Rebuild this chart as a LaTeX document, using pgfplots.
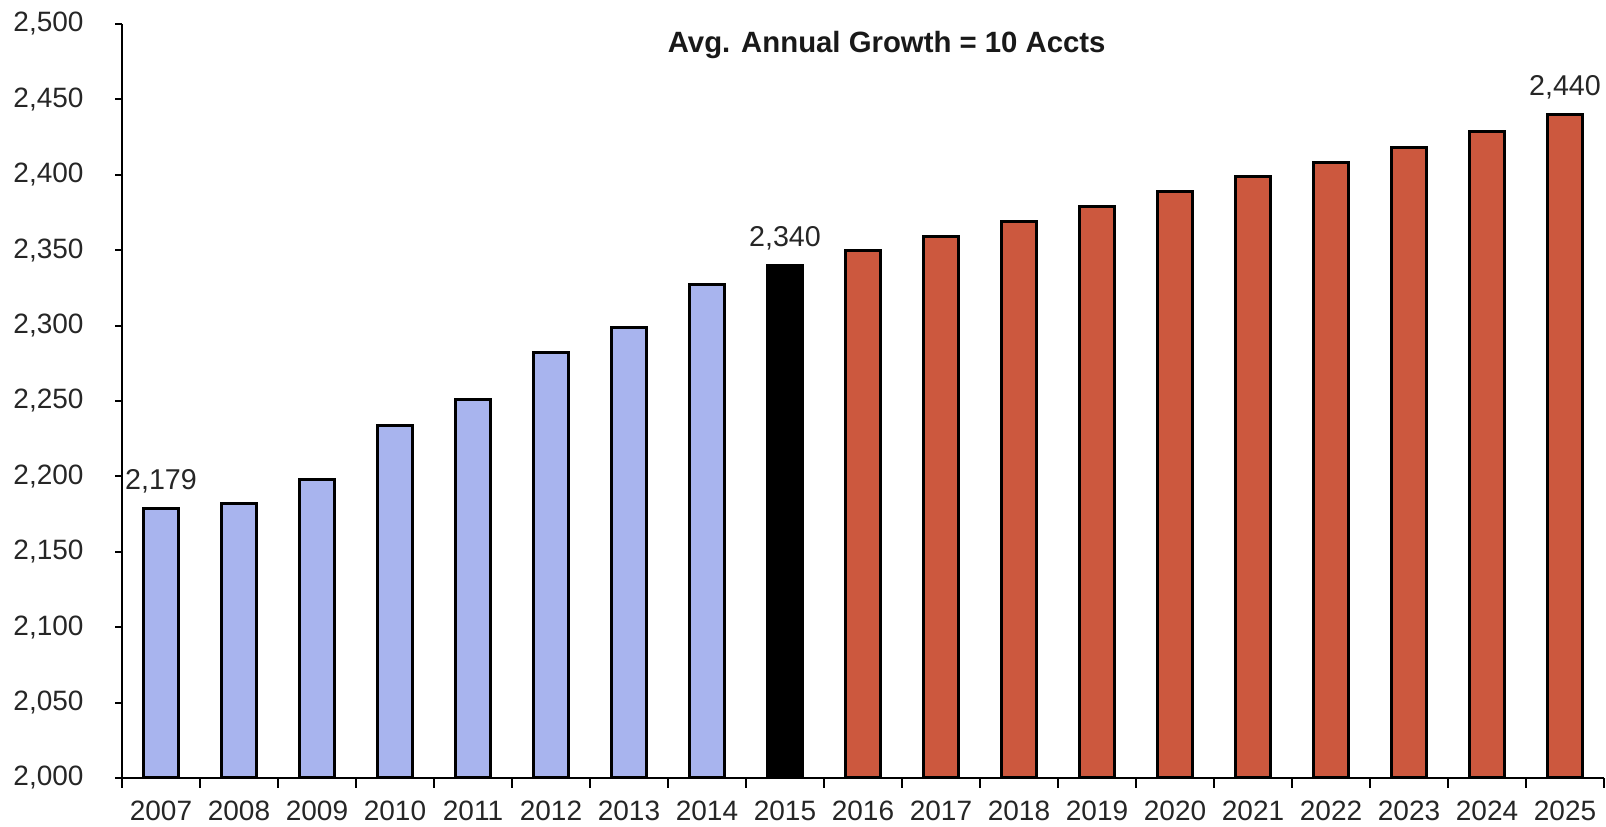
\documentclass[border=0pt]{standalone}
\usepackage{fontspec}
\setmainfont{Liberation Sans}
\usepackage{pgfplots}
\pgfplotsset{compat=1.18}
\definecolor{histblue}{RGB}{168,180,238}
\definecolor{fcstred}{RGB}{204,88,62}
\begin{document}
\begin{tikzpicture}
\begin{axis}[
    name=ax,
    scale only axis,
    width=444.6pt, height=226.2pt,
    ybar, bar width=0.45, bar shift=0pt,
    xmin=-0.5, xmax=18.5,
    ymin=2000, ymax=2500,
    ytick={2000,2050,...,2500},
    xtick={0,...,18},
    xticklabels={2007,2008,2009,2010,2011,2012,2013,2014,2015,2016,2017,2018,2019,2020,2021,2022,2023,2024,2025},
    minor xtick={-0.5,0.5,...,18.5},
    axis x line*=bottom, axis y line*=left,
    tick align=outside,
    major tick length=2pt, minor tick length=3pt,
    major x tick style={draw=none},
    tick style={black, line width=0.6pt},
    axis line style={black, line width=0.7pt},
    /pgf/number format/assume math mode=true,
    /pgf/number format/1000 sep={,},
    tick label style={font=\fontsize{8.4}{10}\selectfont, text=black!85},
    yticklabel style={xshift=-6pt},
    xticklabel style={yshift=-1.5pt},
    clip=false,
]
\addplot[fill=histblue, draw=black, line width=0.9pt] coordinates {
    (0,2179) (1,2182) (2,2198) (3,2234) (4,2251) (5,2282) (6,2299) (7,2327)
};
\addplot[fill=black, draw=black, line width=0.9pt] coordinates {
    (8,2340)
};
\addplot[fill=fcstred, draw=black, line width=0.9pt] coordinates {
    (9,2350) (10,2359) (11,2369) (12,2379) (13,2389) (14,2399) (15,2408) (16,2418) (17,2429) (18,2440)
};
\addplot[draw=none, fill=none, point meta=y,
    nodes near coords,
    nodes near coords style={font=\fontsize{8.6}{10}\selectfont, text=black!85, yshift=1pt}]
    coordinates {(0,2179) (8,2340) (18,2440)};
\node[font=\bfseries\fontsize{8.8}{10}\selectfont, text=black!90] at (rel axis cs:0.516,0.972) {Avg. Annual Growth = 10 Accts};
\end{axis}
\pgfresetboundingbox
\path ([xshift=-36.6pt, yshift=-14.7pt]ax.south west) rectangle ([xshift=0.6pt, yshift=7.2pt]ax.north east);
\end{tikzpicture}
\end{document}
